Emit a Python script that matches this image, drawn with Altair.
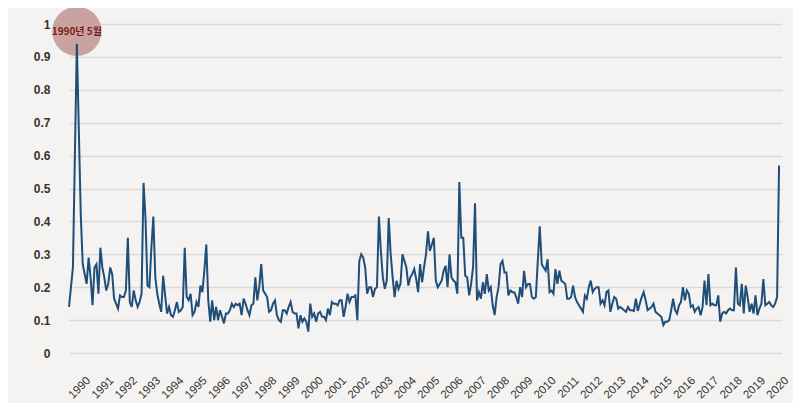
import altair as alt
import pandas as pd

# monthly values, Jan 1990 .. Mar 2020
y1990 = [0.14, 0.20, 0.26, 0.60, 0.94, 0.68, 0.42, 0.27, 0.24, 0.21, 0.29, 0.23]
y1991 = [0.145, 0.26, 0.27, 0.18, 0.32, 0.26, 0.23, 0.19, 0.21, 0.26, 0.24, 0.165]
y1992 = [0.15, 0.135, 0.175, 0.17, 0.17, 0.19, 0.35, 0.155, 0.14, 0.19, 0.16, 0.14]
y1993 = [0.155, 0.18, 0.517, 0.41, 0.205, 0.20, 0.32, 0.415, 0.23, 0.18, 0.15, 0.125]
y1994 = [0.235, 0.175, 0.12, 0.14, 0.115, 0.11, 0.13, 0.155, 0.125, 0.13, 0.14, 0.32]
y1995 = [0.17, 0.16, 0.18, 0.115, 0.125, 0.155, 0.14, 0.205, 0.185, 0.25, 0.33, 0.16]
y1996 = [0.095, 0.16, 0.10, 0.14, 0.10, 0.13, 0.11, 0.09, 0.12, 0.12, 0.13, 0.15]
y1997 = [0.14, 0.15, 0.145, 0.15, 0.115, 0.165, 0.15, 0.13, 0.115, 0.145, 0.15, 0.23]
y1998 = [0.16, 0.20, 0.27, 0.19, 0.18, 0.17, 0.125, 0.13, 0.15, 0.16, 0.115, 0.10]
y1999 = [0.095, 0.13, 0.13, 0.12, 0.14, 0.155, 0.125, 0.12, 0.12, 0.075, 0.115, 0.095]
y2000 = [0.105, 0.095, 0.065, 0.15, 0.11, 0.12, 0.095, 0.12, 0.125, 0.11, 0.11, 0.10]
y2001 = [0.135, 0.115, 0.155, 0.15, 0.15, 0.145, 0.16, 0.16, 0.11, 0.14, 0.18, 0.155]
y2002 = [0.17, 0.17, 0.175, 0.10, 0.28, 0.30, 0.29, 0.26, 0.18, 0.20, 0.20, 0.17]
y2003 = [0.195, 0.20, 0.415, 0.31, 0.23, 0.195, 0.22, 0.41, 0.30, 0.23, 0.17, 0.22]
y2004 = [0.195, 0.21, 0.30, 0.28, 0.26, 0.205, 0.23, 0.24, 0.255, 0.225, 0.185, 0.27]
y2005 = [0.215, 0.26, 0.30, 0.37, 0.31, 0.33, 0.35, 0.22, 0.20, 0.21, 0.22, 0.25]
y2006 = [0.265, 0.20, 0.30, 0.23, 0.22, 0.215, 0.18, 0.52, 0.35, 0.35, 0.235, 0.23]
y2007 = [0.175, 0.21, 0.26, 0.455, 0.16, 0.185, 0.165, 0.215, 0.18, 0.24, 0.19, 0.20]
y2008 = [0.145, 0.115, 0.17, 0.20, 0.27, 0.28, 0.245, 0.245, 0.175, 0.19, 0.185, 0.185]
y2009 = [0.17, 0.15, 0.20, 0.17, 0.25, 0.20, 0.21, 0.21, 0.17, 0.165, 0.17, 0.28]
y2010 = [0.385, 0.27, 0.26, 0.25, 0.285, 0.185, 0.19, 0.18, 0.255, 0.21, 0.25, 0.22]
y2011 = [0.215, 0.21, 0.165, 0.165, 0.17, 0.205, 0.17, 0.155, 0.145, 0.135, 0.125, 0.175]
y2012 = [0.165, 0.20, 0.22, 0.185, 0.195, 0.20, 0.20, 0.15, 0.16, 0.145, 0.185, 0.19]
y2013 = [0.125, 0.15, 0.17, 0.165, 0.135, 0.14, 0.135, 0.13, 0.125, 0.14, 0.13, 0.13]
y2014 = [0.128, 0.165, 0.128, 0.15, 0.17, 0.185, 0.16, 0.13, 0.135, 0.14, 0.15, 0.125]
y2015 = [0.12, 0.115, 0.11, 0.085, 0.095, 0.095, 0.10, 0.13, 0.165, 0.13, 0.12, 0.145]
y2016 = [0.155, 0.20, 0.16, 0.19, 0.18, 0.14, 0.145, 0.125, 0.135, 0.14, 0.115, 0.14]
y2017 = [0.22, 0.145, 0.24, 0.145, 0.15, 0.145, 0.145, 0.175, 0.095, 0.12, 0.125, 0.12]
y2018 = [0.13, 0.135, 0.13, 0.13, 0.26, 0.15, 0.145, 0.21, 0.12, 0.205, 0.17, 0.125]
y2019 = [0.15, 0.12, 0.175, 0.115, 0.135, 0.15, 0.225, 0.145, 0.15, 0.155, 0.145, 0.14]
y2020 = [0.15, 0.17, 0.57]

year_labels = [str(y) for y in range(1990, 2021)]
y_ticks = [0, 0.1, 0.2, 0.3, 0.4, 0.5, 0.6, 0.7, 0.8, 0.9, 1]
note_text = "1990년 5월"
note_month = 4      # May 1990 (index from Jan 1990)
note_level = 0.978

values = (y1990 + y1991 + y1992 + y1993 + y1994 + y1995 + y1996 + y1997 + y1998
          + y1999 + y2000 + y2001 + y2002 + y2003 + y2004 + y2005 + y2006 + y2007
          + y2008 + y2009 + y2010 + y2011 + y2012 + y2013 + y2014 + y2015 + y2016
          + y2017 + y2018 + y2019 + y2020)

df = pd.DataFrame({"idx": list(range(len(values))), "value": values})
note_df = pd.DataFrame({"idx": [note_month], "value": [note_level], "label": [note_text]})
lab_df = pd.DataFrame({"year": year_labels})

xscale = alt.Scale(domain=[0, 363.5], nice=False, zero=False)
yscale = alt.Scale(domain=[0, 1], nice=False)
yaxis = alt.Axis(
    values=y_ticks, format=".1~f", grid=True, gridColor="#d9d9d9", gridWidth=1.6,
    domain=False, ticks=False, labelFont="Liberation Sans", labelFontSize=12,
    labelFontWeight="bold", labelColor="#333333", labelPadding=19, title=None,
    labelOverlap=False, tickCount=11)

circle = alt.Chart(note_df).mark_point(
    filled=True, shape="circle", size=2430, color="#c9a3a0", opacity=1
).encode(
    x=alt.X("idx:Q", scale=xscale, axis=None),
    y=alt.Y("value:Q", scale=yscale, axis=yaxis),
)

line = alt.Chart(df).mark_line(color="#1f4e79", strokeWidth=2).encode(
    x=alt.X("idx:Q", scale=xscale, axis=None),
    y=alt.Y("value:Q", scale=yscale, axis=yaxis),
)

note = alt.Chart(note_df).mark_text(
    font="Noto Sans CJK KR", fontSize=10, fontWeight="bold", color="#7a1c1c",
    align="center", baseline="middle", dy=1
).encode(
    x=alt.X("idx:Q", scale=xscale, axis=None),
    y=alt.Y("value:Q", scale=yscale, axis=yaxis),
    text="label:N",
)

labels = alt.Chart(lab_df).transform_calculate(
    pos="(toNumber(datum.year) - 1990) * 11.863 + 10.2"
).mark_text(
    font="Liberation Sans", fontSize=11.5, color="#333333",
    angle=315, align="right", baseline="middle"
).encode(
    x=alt.X("pos:Q", scale=xscale, axis=None),
    y=alt.value(355),
    text="year:N",
)

chart = alt.layer(circle, line, note, labels).properties(
    width=713, height=329,
    autosize=alt.AutoSizeParams(type="none"),
    padding={"left": 61, "top": 16, "right": 11, "bottom": 50},
    background="#f5f3f1",
).configure_view(strokeWidth=0)

chart.save("out.html", embed_options={"renderer": "svg", "actions": False})
